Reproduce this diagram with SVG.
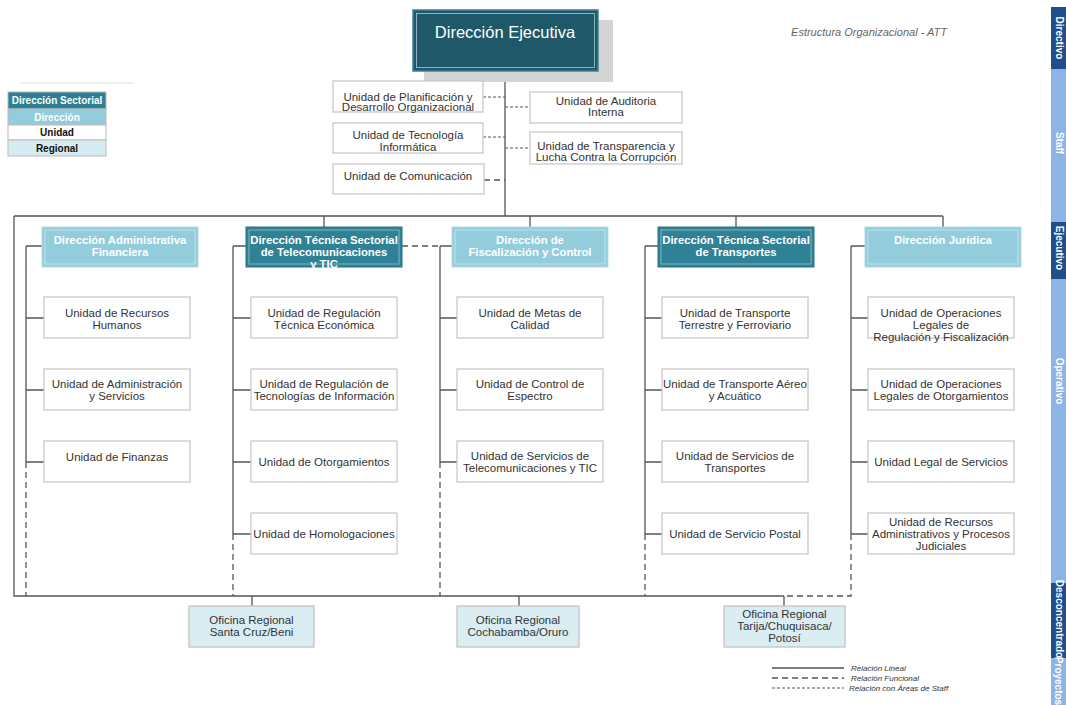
<svg xmlns="http://www.w3.org/2000/svg" width="1066" height="705" viewBox="0 0 1066 705">
<style>
.u{fill:#fff;stroke:#c9c9c9;stroke-width:1.3}
.t{font-family:"Liberation Sans",Arial,sans-serif;font-size:11.5px;fill:#333;text-anchor:middle}
.reg{fill:#daedf3;stroke:#c4c4c4;stroke-width:1.3}
.dl{fill:#93ccdb;stroke:#b2dbe6;stroke-width:1}
.dd{fill:#2f8296;stroke:#2a7083;stroke-width:1}
.il{fill:none;stroke:#cde9f0;stroke-width:0.8}
.id{fill:none;stroke:#8fc3cf;stroke-width:0.8}
.dt{font-family:"Liberation Sans",Arial,sans-serif;font-size:11.3px;font-weight:bold;fill:#fff;text-anchor:middle}
.ln{fill:none;stroke:#555;stroke-width:1.3}
.fn{fill:none;stroke:#555;stroke-width:1.3;stroke-dasharray:6 4}
.st{fill:none;stroke:#555;stroke-width:1.2;stroke-dasharray:3 2}
.lg{font-family:"Liberation Sans",Arial,sans-serif;font-size:10px;font-weight:bold;text-anchor:middle}
.sb{font-family:"Liberation Sans",Arial,sans-serif;font-size:10px;font-weight:bold;fill:#fff;text-anchor:middle}
.li{font-family:"Liberation Sans",Arial,sans-serif;font-size:8px;font-style:italic;fill:#333}
</style>
<defs>
<clipPath id="clipTel"><rect x="240" y="220" width="170" height="50"/></clipPath>
</defs>
<rect width="1066" height="705" fill="#fff"/>

<!-- title -->
<text x="869" y="36" font-family="Liberation Sans, Arial, sans-serif" font-size="11" font-style="italic" fill="#666" text-anchor="middle">Estructura Organizacional - ATT</text>

<!-- top-left legend -->
<g id="legend-top">
<line x1="20" y1="83" x2="134" y2="83" stroke="#efefef" stroke-width="2"/>
<rect x="8" y="92" width="98" height="17" fill="#2d7f93" stroke="#bbb" stroke-width="1"/>
<text class="lg" x="57" y="104" fill="#fff">Dirección Sectorial</text>
<rect x="8" y="109" width="98" height="16" fill="#93ccdb" stroke="#bbb" stroke-width="1"/>
<text class="lg" x="57" y="120.5" fill="#fff">Dirección</text>
<rect x="8" y="125" width="98" height="15" fill="#fff" stroke="#bbb" stroke-width="1"/>
<text class="lg" x="57" y="136" fill="#111">Unidad</text>
<rect x="8" y="140" width="98" height="16" fill="#d6ecf2" stroke="#bbb" stroke-width="1"/>
<text class="lg" x="57" y="151.5" fill="#111">Regional</text>
</g>

<!-- sidebar -->
<g id="sidebar">
<rect x="1051" y="7" width="15" height="62" fill="#1f4e8a"/>
<rect x="1051" y="69" width="15" height="153" fill="#8eb4e3"/>
<rect x="1051" y="222" width="15" height="57" fill="#1f4e8a"/>
<rect x="1051" y="279" width="15" height="304" fill="#8eb4e3"/>
<rect x="1051" y="583" width="15" height="75" fill="#1f4e8a"/>
<rect x="1051" y="658" width="15" height="47" fill="#8eb4e3"/>
<text class="sb" transform="translate(1056 38) rotate(90)">Directivo</text>
<text class="sb" transform="translate(1056 143) rotate(90)">Staff</text>
<text class="sb" transform="translate(1056 248) rotate(90)">Ejecutivo</text>
<text class="sb" transform="translate(1056 381) rotate(90)">Operativo</text>
<text class="sb" transform="translate(1056 619) rotate(90)" font-size="9">Desconcentrado</text>
<text class="sb" transform="translate(1055 681) rotate(90)" font-size="7.5">Proyectos</text>
</g>

<!-- connectors -->
<g id="connectors">
<path class="ln" d="M505 71V216M14 216H943M324 216V227M530 216V227M736 216V227M943 216V227M14 216V596H784M252 596V606M519 596V606M784 596V606"/>
<path class="ln" d="M26 246H42M26 246V462M26 318H44M26 390H44M26 462H44"/>
<path class="ln" d="M233 246H246M233 246V534M233 318H251M233 390H251M233 462H251M233 534H251"/>
<path class="ln" d="M440 246H452M440 246V462M440 318H457M440 390H457M440 462H457"/>
<path class="ln" d="M645 246H658M645 246V534M645 318H662M645 390H662M645 462H662M645 534H662"/>
<path class="ln" d="M851 246H865M851 246V534M851 318H868M851 390H868M851 462H868M851 534H868"/>
<path class="fn" d="M26 462V596M233 534V596M440 462V596M645 534V596M851 534V596H784M402 246H440M484 180H505"/>
<path class="st" d="M483 97H505M505 107H530M483 137H505M505 148H530"/>
</g>

<!-- Dirección Ejecutiva -->
<g id="direccion-ejecutiva">
<rect x="424" y="20" width="189" height="62" fill="#d4d4d4"/>
<rect x="413" y="10" width="185" height="61" fill="#1f5869" stroke="#3f8093" stroke-width="1.5"/>
<rect x="416.5" y="13.5" width="178" height="54" fill="none" stroke="#a9cbd4" stroke-width="0.8"/>
<text x="505" y="38" font-family="Liberation Sans, Arial, sans-serif" font-size="16.5" fill="#fff" text-anchor="middle">Dirección Ejecutiva</text>
</g>

<!-- staff units -->
<g id="u-planificacion"><rect class="u" x="333" y="81" width="150" height="31"/><text class="t" x="408" y="100.5">Unidad de Planificación y</text><text class="t" x="408" y="111">Desarrollo Organizacional</text></g>
<g id="u-auditoria"><rect class="u" x="530" y="92" width="152" height="31"/><text class="t" x="606" y="105">Unidad de Auditoria</text><text class="t" x="606" y="116">Interna</text></g>
<g id="u-tecnologia"><rect class="u" x="333" y="123" width="150" height="30"/><text class="t" x="408" y="139">Unidad de Tecnología</text><text class="t" x="408" y="151">Informática</text></g>
<g id="u-transparencia"><rect class="u" x="530" y="132" width="152" height="32"/><text class="t" x="606" y="150">Unidad de Transparencia y</text><text class="t" x="606" y="161">Lucha Contra la Corrupción</text></g>
<g id="u-comunicacion"><rect class="u" x="333" y="164" width="151" height="30"/><text class="t" x="408" y="180">Unidad de Comunicación</text></g>

<!-- direcciones -->
<g id="d-administrativa"><rect class="dl" x="42" y="227" width="156" height="40"/><rect class="il" x="45" y="230" width="150" height="34"/><text class="dt" x="120" y="244">Dirección Administrativa</text><text class="dt" x="120" y="256">Financiera</text></g>
<g id="d-telecom"><rect class="dd" x="246" y="227" width="156" height="40"/><rect class="id" x="249" y="230" width="150" height="34"/><g clip-path="url(#clipTel)"><text class="dt" x="324" y="244">Dirección Técnica Sectorial</text><text class="dt" x="324" y="256">de Telecomunicaciones</text><text class="dt" x="324" y="268">y TIC</text></g></g>
<g id="d-fiscalizacion"><rect class="dl" x="452" y="227" width="156" height="40"/><rect class="il" x="455" y="230" width="150" height="34"/><text class="dt" x="530" y="244">Dirección de</text><text class="dt" x="530" y="256">Fiscalización y Control</text></g>
<g id="d-transportes"><rect class="dd" x="658" y="227" width="156" height="40"/><rect class="id" x="661" y="230" width="150" height="34"/><text class="dt" x="736" y="244">Dirección Técnica Sectorial</text><text class="dt" x="736" y="256">de Transportes</text></g>
<g id="d-juridica"><rect class="dl" x="865" y="227" width="156" height="40"/><rect class="il" x="868" y="230" width="150" height="34"/><text class="dt" x="943" y="244">Dirección Jurídica</text></g>

<!-- column 1 -->
<g id="u-rrhh"><rect class="u" x="44" y="297" width="146" height="41"/><text class="t" x="117" y="317">Unidad de Recursos</text><text class="t" x="117" y="329">Humanos</text></g>
<g id="u-admserv"><rect class="u" x="44" y="369" width="146" height="41"/><text class="t" x="117" y="388">Unidad de Administración</text><text class="t" x="117" y="400">y Servicios</text></g>
<g id="u-finanzas"><rect class="u" x="44" y="441" width="146" height="41"/><text class="t" x="117" y="461">Unidad de Finanzas</text></g>

<!-- column 2 -->
<g id="u-regtec"><rect class="u" x="251" y="297" width="146" height="41"/><text class="t" x="324" y="317">Unidad de Regulación</text><text class="t" x="324" y="329">Técnica Económica</text></g>
<g id="u-regti"><rect class="u" x="251" y="369" width="146" height="41"/><text class="t" x="324" y="388">Unidad de Regulación de</text><text class="t" x="324" y="400">Tecnologías de Información</text></g>
<g id="u-otorg"><rect class="u" x="251" y="441" width="146" height="41"/><text class="t" x="324" y="466">Unidad de Otorgamientos</text></g>
<g id="u-homolog"><rect class="u" x="251" y="513" width="146" height="41"/><text class="t" x="324" y="538">Unidad de Homologaciones</text></g>

<!-- column 3 -->
<g id="u-metas"><rect class="u" x="457" y="297" width="146" height="41"/><text class="t" x="530" y="316.5">Unidad de Metas de</text><text class="t" x="530" y="328.5">Calidad</text></g>
<g id="u-espectro"><rect class="u" x="457" y="369" width="146" height="41"/><text class="t" x="530" y="388">Unidad de Control de</text><text class="t" x="530" y="400">Espectro</text></g>
<g id="u-servtel"><rect class="u" x="457" y="441" width="146" height="41"/><text class="t" x="530" y="460">Unidad de Servicios de</text><text class="t" x="530" y="472">Telecomunicaciones y TIC</text></g>

<!-- column 4 -->
<g id="u-terrestre"><rect class="u" x="662" y="297" width="146" height="41"/><text class="t" x="735" y="317">Unidad de Transporte</text><text class="t" x="735" y="329">Terrestre y Ferroviario</text></g>
<g id="u-aereo"><rect class="u" x="662" y="369" width="146" height="41"/><text class="t" x="735" y="388">Unidad de Transporte Aéreo</text><text class="t" x="735" y="400">y Acuático</text></g>
<g id="u-servtrans"><rect class="u" x="662" y="441" width="146" height="41"/><text class="t" x="735" y="460">Unidad de Servicios de</text><text class="t" x="735" y="472">Transportes</text></g>
<g id="u-postal"><rect class="u" x="662" y="513" width="146" height="41"/><text class="t" x="735" y="538">Unidad de Servicio Postal</text></g>

<!-- column 5 -->
<g id="u-oplegreg"><rect class="u" x="868" y="297" width="146" height="41"/><text class="t" x="941" y="317">Unidad de Operaciones</text><text class="t" x="941" y="329">Legales de</text><text class="t" x="941" y="341">Regulación y Fiscalización</text></g>
<g id="u-oplegot"><rect class="u" x="868" y="369" width="146" height="41"/><text class="t" x="941" y="388">Unidad de Operaciones</text><text class="t" x="941" y="400">Legales de Otorgamientos</text></g>
<g id="u-legserv"><rect class="u" x="868" y="441" width="146" height="41"/><text class="t" x="941" y="466">Unidad Legal de Servicios</text></g>
<g id="u-recadm"><rect class="u" x="868" y="513" width="146" height="41"/><text class="t" x="941" y="526">Unidad de Recursos</text><text class="t" x="941" y="538">Administrativos y Procesos</text><text class="t" x="941" y="550">Judiciales</text></g>

<!-- regional offices -->
<g id="r-santacruz"><rect class="reg" x="189" y="606" width="125" height="41"/><text class="t" x="251.5" y="624">Oficina Regional</text><text class="t" x="251.5" y="636">Santa Cruz/Beni</text></g>
<g id="r-cochabamba"><rect class="reg" x="457" y="606" width="122" height="41"/><text class="t" x="518" y="624">Oficina Regional</text><text class="t" x="518" y="636">Cochabamba/Oruro</text></g>
<g id="r-tarija"><rect class="reg" x="724" y="606" width="121" height="41"/><text class="t" x="784.5" y="618">Oficina Regional</text><text class="t" x="784.5" y="630">Tarija/Chuquisaca/</text><text class="t" x="784.5" y="642">Potosí</text></g>

<!-- bottom legend -->
<g id="legend-bottom">
<line class="ln" x1="772" y1="668" x2="844" y2="668"/>
<text class="li" x="851" y="671">Relación Lineal</text>
<line class="fn" x1="772" y1="678" x2="844" y2="678"/>
<text class="li" x="851" y="681">Relación Funcional</text>
<line class="st" x1="772" y1="688" x2="844" y2="688"/>
<text class="li" x="849" y="691">Relación con Áreas de Staff</text>
</g>
</svg>
